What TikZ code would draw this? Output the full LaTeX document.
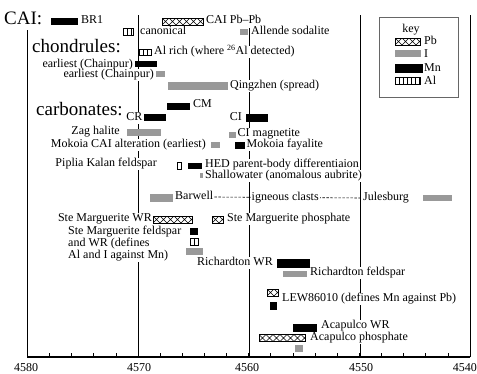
\documentclass[tikz,border=0pt]{standalone}
\usepackage{fontspec}
\setmainfont{Liberation Serif}
\newcommand\mybar[6]{\node[#2, minimum width={#4pt-#3pt}, minimum height=#6pt] (#1) at ({(#3+#4)/2},#5) {};}
\begin{document}
\begin{tikzpicture}[x=1pt,y=-1pt,
  lbl/.style={fill=white, inner xsep=1pt, inner ysep=0.5pt, font=\fontsize{12}{12}\selectfont, text height=8pt, text depth=2.5pt},
  lblm/.style={fill=white, inner sep=1pt, font=\fontsize{12}{12}\selectfont, align=left},
  big/.style={fill=white, inner sep=1pt, font=\fontsize{19}{19}\selectfont},
  ticklbl/.style={inner sep=0pt, font=\fontsize{12}{12}\selectfont},
  bar/.style={inner sep=0pt, outer sep=0pt, minimum height=7pt},
  mn/.style={bar, fill=black},
  iod/.style={bar, fill=black!40},
  pb/.style={bar, draw, fill=white, line width=0.5pt, path picture={
    \foreach \k in {0,...,9}{
      \draw[line width=0.4pt] ([xshift=\k*7pt]path picture bounding box.south west) -- ++(7pt,7pt)
        ([xshift=\k*7pt]path picture bounding box.north west) -- ++(7pt,-7pt);}}},
  al/.style={bar, draw, fill=white, line width=0.6pt, path picture={
    \foreach \k in {1,...,8}{
      \draw[line width=0.4pt] ([xshift=\k*4pt]path picture bounding box.south west) -- ([xshift=\k*4pt]path picture bounding box.north west);}}},
  gridline/.style={line width=0.7pt},
  axisline/.style={line width=1.1pt},
]
\useasboundingbox (0,0) rectangle (477,373);

% frame and grid lines
\draw[gridline] (27,30) -- (27,357);
\draw[gridline] (138,15) -- (138,357);
\draw[gridline] (249,28) -- (249,357);
\draw[gridline] (360,15) -- (360,357);
\draw[gridline] (470,15) -- (470,357);
\draw[axisline] (27,357) -- (470.4,357);
\foreach \t in {0,2,...,40} \draw[gridline] ({27.3+\t*11.07},357) -- ++(0,-4);

% tick labels
\node[ticklbl] (t4580) at (26,368) {4580};
\node[ticklbl] (t4570) at (139,368) {4570};
\node[ticklbl] (t4560) at (247,368) {4560};
\node[ticklbl] (t4550) at (361,368) {4550};
\node[ticklbl, anchor=east] (t4540) at (477,368) {4540};

% key
\node[draw=black!60, line width=0.5pt, fill=white, minimum width=79pt, minimum height=80pt, inner sep=0pt] (keybox) at (418.5,57) {};
\node[lbl] (lkey) at (411,30) {key};
\mybar{kpb}{pb}{395}{420}{41.5}{7}
\mybar{ki}{iod}{395}{421}{53.5}{7}
\mybar{kmn}{mn}{395}{423}{68}{9}
\mybar{kal}{al}{395}{420}{80.5}{7}
\node[lbl, anchor=west] (lkpb) at (423,42) {Pb};
\node[lbl, anchor=west] (lki) at (423,54.5) {I};
\node[lbl, anchor=west] (lkmn) at (423,69) {Mn};
\node[lbl, anchor=west] (lkal) at (423,81.5) {Al};

% labels
\node[big, anchor=west] (hcai) at (3,18) {CAI:};
\node[lbl, anchor=west] (lbr1) at (80,21) {BR1};
\node[lbl, anchor=west] (lcaipb) at (205,21) {CAI Pb–Pb};
\node[lbl, anchor=west] (lcanon) at (139,32) {canonical};
\node[lbl, anchor=west] (lallende) at (250,32) {Allende sodalite};
\node[big, anchor=west] (hchon) at (31,46.5) {chondrules:};
\node[lbl, anchor=west] (lalrich) at (153,52) {Al rich (where \textsuperscript{26}Al detected)};
\node[lbl, anchor=east] (lchain1) at (134,64.5) {earliest (Chainpur)};
\node[lbl, anchor=east] (lchain2) at (155,75) {earliest (Chainpur)};
\node[lbl, anchor=west] (lqing) at (229,86) {Qingzhen (spread)};
\node[big, anchor=west] (hcarb) at (35,109) {carbonates:};
\node[lbl, anchor=west] (lcm) at (192,105) {CM};
\node[lbl, anchor=east] (lcr) at (143.5,118) {CR};
\node[lbl, anchor=east] (lci) at (243,118) {CI};
\node[lbl, anchor=east] (lzag) at (121,132) {Zag halite};
\node[lbl, anchor=west] (lcimag) at (236.5,134) {CI magnetite};
\node[lbl, anchor=east] (lmokcai) at (207,145) {Mokoia CAI alteration (earliest)};
\node[lbl, anchor=west] (lmokfay) at (245.5,145) {Mokoia fayalite};
\node[lbl, anchor=east] (lpiplia) at (158,164) {Piplia Kalan feldspar};
\node[lbl, anchor=west] (lhed) at (204,165) {HED parent-body differentiaion};
\node[lbl, anchor=west] (lshallow) at (204,176) {Shallowater (anomalous aubrite)};
\node[lbl, anchor=west] (lbarwell) at (174,197) {Barwell};
\node[lbl, anchor=west] (ljules) at (362,198) {Julesburg};
\draw[dashed, dash pattern=on 2.5pt off 1.5pt, line width=0.6pt] (lbarwell.east) -- node[lbl, pos=0.48] (ligneous) {igneous clasts} (ljules.west);
\node[lbl, anchor=east] (lsmwr) at (153,219) {Ste Marguerite WR};
\node[lbl, anchor=west] (lsmphos) at (226,219) {Ste Marguerite phosphate};
\node[lblm, anchor=north west] (lsmfeld) at (67,225) {Ste Marguerite feldspar\\and WR (defines\\Al and I against Mn)};
\node[lbl, anchor=east] (lrichwr) at (274,263) {Richardton WR};
\node[lbl, anchor=west] (lrichfeld) at (309,273) {Richardton feldspar};
\node[lbl, anchor=west] (llew) at (281,299) {LEW86010 (defines Mn against Pb)};
\node[lbl, anchor=west] (lacawr) at (320,326) {Acapulco WR};
\node[lbl, anchor=west] (lacaphos) at (309,338) {Acapulco phosphate};

% bars
\mybar{br1}{mn}{51}{78}{21}{7}
\mybar{caipb}{pb}{162}{203}{21.5}{7}
\mybar{canon}{al}{123}{133}{31.5}{7}
\mybar{allende}{iod}{240}{248}{32}{6}
\mybar{alrich}{al}{139}{151}{52}{6}
\mybar{chain1}{mn}{135}{157}{64}{6}
\mybar{chain2}{iod}{156}{165}{74}{6}
\mybar{qing}{iod}{168}{228}{86}{8}
\mybar{cm}{mn}{167}{190}{106.5}{7}
\mybar{cr}{mn}{144}{166}{117.5}{7}
\mybar{ci}{mn}{246}{268}{117.5}{8}
\mybar{zag}{iod}{127}{161}{132.5}{7}
\mybar{cimag}{iod}{229}{236}{135}{6}
\mybar{mokcai}{iod}{211}{220}{145}{6}
\mybar{mokfay}{mn}{235}{245}{145}{7}
\mybar{piplia}{al}{177}{181}{165.5}{7}
\mybar{hed}{mn}{188}{202}{166}{6}
\mybar{shallow}{iod}{200}{203}{175.5}{5}
\mybar{barwell}{iod}{150}{173}{197.5}{8}
\mybar{jules}{iod}{423}{452}{198}{6}
\mybar{smwr}{pb}{153}{192}{219.5}{7}
\mybar{smphos}{pb}{212}{223}{219.5}{7}
\mybar{smfeld}{mn}{190}{198}{231}{7}
\mybar{smal}{al}{190}{198}{241.5}{7}
\mybar{smi}{iod}{186}{203}{251.5}{7}
\mybar{richwr}{mn}{277}{310}{263}{9}
\mybar{richfeld}{iod}{283}{307}{273.5}{6}
\mybar{lewpb}{pb}{267}{278}{292.5}{7}
\mybar{lewmn}{mn}{270}{277}{306}{8}
\mybar{acawr}{mn}{293}{317}{327.5}{8}
\mybar{acaphos}{pb}{259}{305}{338}{7}
\mybar{acai}{iod}{295}{303}{348.5}{7}
\end{tikzpicture}
\end{document}
